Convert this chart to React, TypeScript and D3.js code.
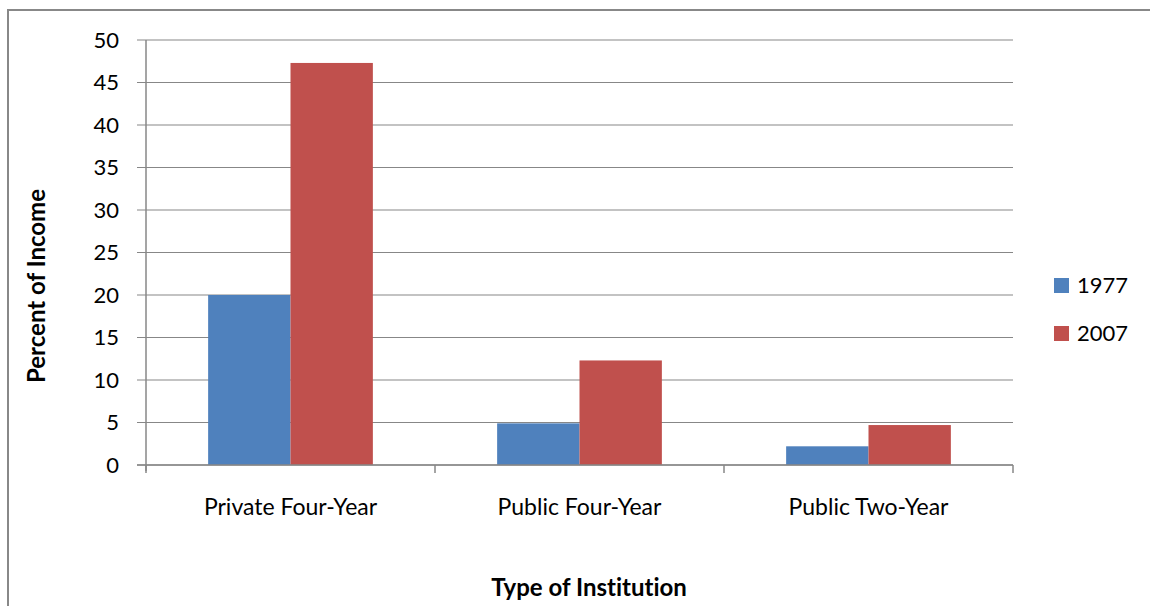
import React from "react";
import * as d3 from "d3";

const categories = ["Private Four-Year", "Public Four-Year", "Public Two-Year"];
const seriesNames = ["1977", "2007"];
const values1977 = [20, 4.9, 2.2];
const values2007 = [47.3, 12.3, 4.7];
const yTicks = [0, 5, 10, 15, 20, 25, 30, 35, 40, 45, 50];
const colors = ["#4F81BD", "#C0504D"];

const W = 1150;
const H = 606;
const plot = { left: 146, right: 1013, top: 40, bottom: 465 };
const FONT = "Lato, 'Open Sans', sans-serif";
const noLig = { fontVariantLigatures: "none" as const, fontFeatureSettings: "'liga' 0, 'clig' 0" };

export default function App() {
  const x0 = d3
    .scaleBand<string>()
    .domain(categories)
    .range([plot.left, plot.right])
    .paddingInner(0)
    .paddingOuter(0);
  const gap = 0.43; // fraction of band left empty (Excel gap width ~150%)
  const x1 = d3
    .scaleBand<string>()
    .domain(seriesNames)
    .range([x0.bandwidth() * (gap / 2), x0.bandwidth() * (1 - gap / 2)]);
  const y = d3.scaleLinear().domain([0, 50]).range([plot.bottom, plot.top]);

  const series = [values1977, values2007];
  const grid = "#878787";

  return (
    <svg width={W} height={H} style={{ position: "absolute", left: 0, top: 0, ...noLig }}>
      <rect x={0} y={0} width={W} height={H} fill="#fff" />
      <rect x={8} y={10} width={W + 10} height={H + 10} fill="none" stroke="#888" strokeWidth={2} />
      {yTicks.map((t) => (
        <g key={t}>
          <line x1={plot.left - 9} x2={plot.right} y1={y(t)} y2={y(t)} stroke={grid} strokeWidth={1.2} />
          <text
            x={119}
            y={y(t)}
            dy="0.36em"
            textAnchor="end"
            fontFamily={FONT}
            fontSize={22}
            fill="#000"
          >
            {t}
          </text>
        </g>
      ))}
      {series.map((vals, si) =>
        categories.map((c, ci) => (
          <rect
            key={`${si}-${ci}`}
            x={(x0(c) as number) + (x1(seriesNames[si]) as number)}
            y={y(vals[ci])}
            width={x1.bandwidth()}
            height={y(0) - y(vals[ci])}
            fill={colors[si]}
          />
        ))
      )}
      <line x1={plot.left} x2={plot.left} y1={plot.top} y2={plot.bottom + 6} stroke={grid} strokeWidth={1.5} />
      <line x1={plot.left - 9} x2={plot.right} y1={plot.bottom} y2={plot.bottom} stroke={grid} strokeWidth={1.5} />
      {[...categories.map((c) => x0(c) as number), plot.right].map((xv, i) => (
        <line key={i} x1={xv} x2={xv} y1={plot.bottom} y2={plot.bottom + 8} stroke={grid} strokeWidth={1.5} />
      ))}
      {categories.map((c) => (
        <text
          key={c}
          x={(x0(c) as number) + x0.bandwidth() / 2}
          y={515}
          textAnchor="middle"
          fontFamily={FONT}
          fontSize={23}
          fill="#000"
        >
          {c}
        </text>
      ))}
      <text
        transform={`translate(45,286) rotate(-90)`}
        textAnchor="middle"
        fontFamily={FONT}
        fontSize={24}
        fontWeight="bold"
        fill="#000"
      >
        Percent of Income
      </text>
      <text x={589} y={596} textAnchor="middle" fontFamily={FONT} fontSize={24} fontWeight="bold" fill="#000">
        Type of Institution
      </text>
      {seriesNames.map((s, i) => (
        <g key={s} transform={`translate(1054,${278 + i * 48})`}>
          <rect x={0} y={0} width={15} height={15} fill={colors[i]} />
          <text x={23} y={15} fontFamily={FONT} fontSize={22} fill="#000">
            {s}
          </text>
        </g>
      ))}
    </svg>
  );
}
